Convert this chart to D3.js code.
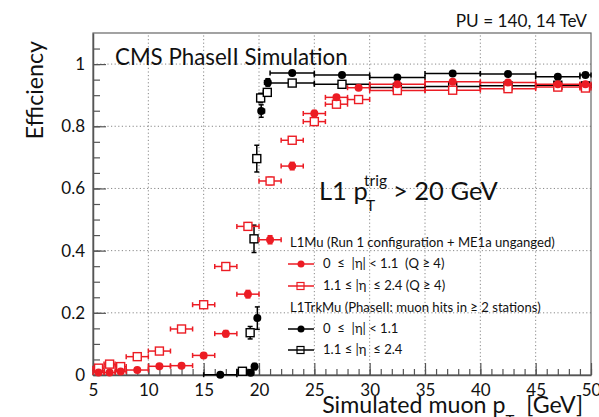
<!DOCTYPE html>
<html>
<head>
<meta charset="utf-8">
<script src="https://cdn.jsdelivr.net/npm/d3@7"></script>
<style>
body { margin: 0; background: #fff; }
svg { display: block; font-family: Lato, "Open Sans", sans-serif; }
</style>
</head>
<body>
<svg id="chart" width="599" height="417"></svg>
<script>
'use strict';

// L1Mu, 0 <= |eta| < 1.1 (red, filled circles)
const muBarrelX   = [5.5, 6.5, 7.5, 9, 11, 13, 15, 17, 19, 21, 23, 25, 27, 29, 32.5, 37.5, 42.5, 47, 49.5];
const muBarrelLo  = [5, 6, 7, 8, 10, 12, 14, 16, 18, 20, 22, 24, 26, 28, 30, 35, 40, 45, 49];
const muBarrelHi  = [6, 7, 8, 10, 12, 14, 16, 18, 20, 22, 24, 26, 28, 30, 35, 40, 45, 49, 50];
const muBarrelEff = [0.008, 0.008, 0.011, 0.016, 0.028, 0.030, 0.063, 0.133, 0.260, 0.435, 0.672, 0.841, 0.893, 0.924, 0.935, 0.943, 0.941, 0.935, 0.935];
const muBarrelErr = [0.005, 0.005, 0.005, 0.005, 0.006, 0.006, 0.008, 0.010, 0.012, 0.013, 0.012, 0.010, 0.008, 0.006, 0.004, 0.004, 0.004, 0.004, 0.006];

// L1Mu, 1.1 <= |eta| <= 2.4 (red, open squares)
const muEndcapX   = [5.5, 6.5, 7.5, 9, 11, 13, 15, 17, 19, 21, 23, 25, 27, 29, 32.5, 37.5, 42.5, 47, 49.5];
const muEndcapLo  = [5, 6, 7, 8, 10, 12, 14, 16, 18, 20, 22, 24, 26, 28, 30, 35, 40, 45, 49];
const muEndcapHi  = [6, 7, 8, 10, 12, 14, 16, 18, 20, 22, 24, 26, 28, 30, 35, 40, 45, 49, 50];
const muEndcapEff = [0.022, 0.035, 0.027, 0.059, 0.077, 0.148, 0.226, 0.349, 0.478, 0.624, 0.755, 0.815, 0.871, 0.886, 0.915, 0.916, 0.921, 0.926, 0.923];
const muEndcapErr = [0.006, 0.007, 0.006, 0.007, 0.008, 0.010, 0.011, 0.012, 0.012, 0.012, 0.010, 0.009, 0.008, 0.007, 0.004, 0.004, 0.004, 0.004, 0.006];

// L1TrkMu, 0 <= |eta| < 1.1 (black, filled circles)
const trkBarrelX   = [16.5, 19.25, 19.6, 19.85, 20.2, 20.8, 23, 27.5, 32.5, 37.5, 42.5, 47, 49.5];
const trkBarrelLo  = [15, 19, 19.5, 19.75, 20, 20.5, 21, 25, 30, 35, 40, 45, 49];
const trkBarrelHi  = [18, 19.5, 19.75, 20, 20.5, 21, 25, 30, 35, 40, 45, 49, 50];
const trkBarrelEff = [0.001, 0.007, 0.027, 0.183, 0.849, 0.941, 0.971, 0.965, 0.957, 0.970, 0.968, 0.959, 0.965];
const trkBarrelErr = [0.002, 0.005, 0.010, 0.036, 0.020, 0.012, 0.004, 0.004, 0.004, 0.004, 0.004, 0.004, 0.005];

// L1TrkMu, 1.1 <= |eta| <= 2.4 (black, open squares)
const trkEndcapX   = [18.5, 19.2, 19.55, 19.8, 20.15, 20.75, 23, 27.5, 32.5, 37.5, 42.5, 47, 49.5];
const trkEndcapLo  = [18, 19, 19.4, 19.7, 19.9, 20.4, 21, 25, 30, 35, 40, 45, 49];
const trkEndcapHi  = [19, 19.4, 19.7, 19.9, 20.4, 21, 25, 30, 35, 40, 45, 49, 50];
const trkEndcapEff = [0.012, 0.136, 0.438, 0.696, 0.891, 0.909, 0.939, 0.935, 0.925, 0.928, 0.930, 0.932, 0.930];
const trkEndcapErr = [0.004, 0.020, 0.044, 0.043, 0.015, 0.012, 0.005, 0.004, 0.004, 0.004, 0.004, 0.004, 0.005];

const xTicks = [5, 10, 15, 20, 25, 30, 35, 40, 45, 50];
const yTicks = [0, 0.2, 0.4, 0.6, 0.8, 1];

const legendHeaders = ["L1Mu (Run 1 configuration + ME1a unganged)", "L1TrkMu (PhaseII: muon hits in \u2265 2 stations)"];
const legendLabels = [
    "0  \u2264  |\u03b7| < 1.1  (Q \u2265 4)",
    "1.1 \u2264 |\u03b7  \u2264 2.4 (Q \u2265 4)",
    "0  \u2264  |\u03b7| < 1.1",
    "1.1 \u2264 |\u03b7  \u2264 2.4"
];

const RED = "#ec1c24";
const BLACK = "#000";

const svg = d3.select("#chart");
const margin = {left: 93, right: 8, top: 33, bottom: 42};
const width = 599, height = 417;

const x = d3.scaleLinear().domain([5, 50]).range([margin.left, width - margin.right]);
const y = d3.scaleLinear().domain([0, 1.1]).range([height - margin.bottom, margin.top]);

// grid
const grid = svg.append("g").attr("stroke", "#888").attr("stroke-width", 1).attr("stroke-dasharray", "1.2,2.4");
grid.selectAll(".vg").data(xTicks.slice(1, -1)).join("line")
    .attr("x1", d => x(d)).attr("x2", d => x(d))
    .attr("y1", y(0)).attr("y2", y(1.1));
grid.selectAll(".hg").data(yTicks.slice(1)).join("line")
    .attr("x1", x(5)).attr("x2", x(50))
    .attr("y1", d => y(d)).attr("y2", d => y(d));

// frame
svg.append("rect")
    .attr("x", x(5)).attr("y", y(1.1))
    .attr("width", x(50) - x(5)).attr("height", y(0) - y(1.1))
    .attr("fill", "none").attr("stroke", "#666").attr("stroke-width", 1.2);

// axes
const axisFont = g => g.selectAll("text").attr("font-size", 17).attr("fill", "#111").attr("font-family", "Lato, sans-serif");

svg.append("g").attr("transform", `translate(${x(5)},0)`)
    .call(d3.axisLeft(y).tickValues(yTicks).tickSize(-13).tickSizeOuter(0).tickPadding(8).tickFormat(d3.format("")))
    .call(axisFont);
svg.append("g").attr("transform", `translate(${x(5)},0)`)
    .call(d3.axisLeft(y).tickValues(d3.range(0, 1.1, 0.05)).tickSize(-7).tickSizeOuter(0).tickFormat(""))
    .call(g => g.select(".domain").remove());

svg.append("g").attr("transform", `translate(0,${y(0)})`)
    .call(d3.axisBottom(x).tickValues(xTicks).tickSize(-12).tickSizeOuter(0).tickPadding(9))
    .call(axisFont);
svg.append("g").attr("transform", `translate(0,${y(0)})`)
    .call(d3.axisBottom(x).tickValues(d3.range(5, 51, 1)).tickSize(-6).tickSizeOuter(0).tickFormat(""))
    .call(g => g.select(".domain").remove());

svg.selectAll(".tick line").attr("stroke", "#555").attr("stroke-width", 1.2);
svg.selectAll(".domain").attr("stroke", "#555").attr("stroke-width", 1.5);

// data series
function drawSeries(xs, lo, hi, eff, err, color, square) {
    const pts = xs.map((v, i) => ({x: v, lo: lo[i], hi: hi[i], e: eff[i], s: err[i]}));
    const g = svg.append("g").attr("stroke", color).attr("stroke-width", 1.5);
    const cap = 2.5;
    g.selectAll(".hb").data(pts).join("line")
        .attr("x1", d => x(d.lo)).attr("x2", d => x(d.hi))
        .attr("y1", d => y(d.e)).attr("y2", d => y(d.e));
    g.selectAll(".hc").data(pts.flatMap(d => [[d.lo, d.e], [d.hi, d.e]])).join("line")
        .attr("x1", d => x(d[0])).attr("x2", d => x(d[0]))
        .attr("y1", d => y(d[1]) - cap).attr("y2", d => y(d[1]) + cap);
    g.selectAll(".vb").data(pts).join("line")
        .attr("x1", d => x(d.x)).attr("x2", d => x(d.x))
        .attr("y1", d => y(d.e - d.s)).attr("y2", d => y(d.e + d.s));
    g.selectAll(".vc").data(pts.flatMap(d => [[d.x, d.e - d.s], [d.x, d.e + d.s]])).join("line")
        .attr("x1", d => x(d[0]) - cap).attr("x2", d => x(d[0]) + cap)
        .attr("y1", d => y(d[1])).attr("y2", d => y(d[1]));
    if (square) {
        g.selectAll(".m").data(pts).join("rect")
            .attr("x", d => x(d.x) - 4).attr("y", d => y(d.e) - 4)
            .attr("width", 8).attr("height", 8)
            .attr("fill", "#fff").attr("stroke-width", 1.4);
    } else {
        g.selectAll(".m").data(pts).join("circle")
            .attr("cx", d => x(d.x)).attr("cy", d => y(d.e))
            .attr("r", 4).attr("fill", color).attr("stroke", "none");
    }
}

drawSeries(trkEndcapX, trkEndcapLo, trkEndcapHi, trkEndcapEff, trkEndcapErr, BLACK, true);
drawSeries(trkBarrelX, trkBarrelLo, trkBarrelHi, trkBarrelEff, trkBarrelErr, BLACK, false);
drawSeries(muEndcapX, muEndcapLo, muEndcapHi, muEndcapEff, muEndcapErr, RED, true);
drawSeries(muBarrelX, muBarrelLo, muBarrelHi, muBarrelEff, muBarrelErr, RED, false);

// texts
svg.append("text").attr("x", 115).attr("y", 65).attr("font-size", 22.3).attr("fill", "#111")
    .text("CMS PhaseII Simulation");
svg.append("text").attr("x", 587).attr("y", 27).attr("font-size", 17.2).attr("text-anchor", "end").attr("fill", "#111")
    .text("PU = 140, 14 TeV");

const cut = svg.append("text").attr("y", 200).attr("font-size", 25.5).attr("fill", "#111");
cut.append("tspan").attr("x", 319).text("L1 p");
cut.append("tspan").attr("x", 364).attr("y", 186).attr("font-size", 15.5).text("trig");
cut.append("tspan").attr("x", 366).attr("y", 211).attr("font-size", 15.5).text("T");
cut.append("tspan").attr("x", 393).attr("y", 200).text("> 20 GeV");

const xt = svg.append("text").attr("x", 583).attr("y", 413).attr("font-size", 23.2).attr("text-anchor", "end").attr("fill", "#111");
xt.append("tspan").text("Simulated muon p");
xt.append("tspan").attr("dy", 13).attr("font-size", 15).text("T");
xt.append("tspan").attr("dy", -13).text("\u00a0\u00a0[GeV]");

svg.append("text").attr("transform", "translate(43,41) rotate(-90)")
    .attr("text-anchor", "end").attr("font-size", 23.2).attr("fill", "#111")
    .text("Efficiency");

// legend
const leg = svg.append("g").attr("font-size", 13.1).attr("fill", "#111");
const rowY = [247, 268, 290, 312, 333, 354];
leg.append("text").attr("x", 290).attr("y", rowY[0]).text(legendHeaders[0]);
leg.append("text").attr("x", 290).attr("y", rowY[3]).text(legendHeaders[1]);
const entries = [
    {row: 1, color: RED, square: false, label: legendLabels[0]},
    {row: 2, color: RED, square: true, label: legendLabels[1]},
    {row: 4, color: BLACK, square: false, label: legendLabels[2]},
    {row: 5, color: BLACK, square: true, label: legendLabels[3]}
];
entries.forEach(e => {
    const cy = rowY[e.row] - 4;
    leg.append("line").attr("x1", 288).attr("x2", 314).attr("y1", cy).attr("y2", cy)
        .attr("stroke", e.color).attr("stroke-width", 1.5);
    if (e.square) {
        leg.append("rect").attr("x", 297).attr("y", cy - 3.5).attr("width", 7).attr("height", 7)
            .attr("fill", "none").attr("stroke", e.color).attr("stroke-width", 1.2);
    } else {
        leg.append("circle").attr("cx", 301).attr("cy", cy).attr("r", 3.5).attr("fill", e.color);
    }
    leg.append("text").attr("x", 323).attr("y", rowY[e.row]).style("white-space", "pre").text(e.label);
});
</script>
</body>
</html>
